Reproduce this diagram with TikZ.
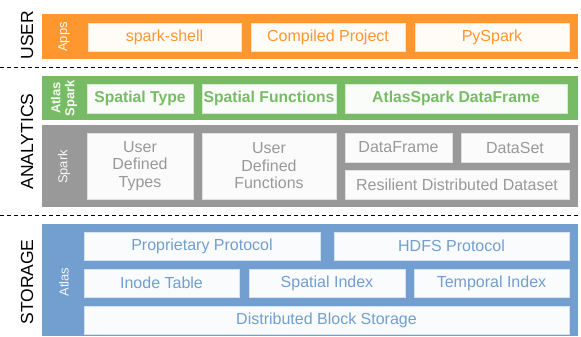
\documentclass[tikz,border=0pt]{standalone}
\usepackage{fontspec}
\setmainfont{Liberation Sans}
\definecolor{cOr}{HTML}{FF972F}
\definecolor{cGr}{HTML}{77BC65}
\definecolor{cGy}{HTML}{999999}
\definecolor{cBl}{HTML}{729FCF}
\tikzset{
  band/.style={fill=#1, draw=none},
  ibox/.style={draw=#1!30!white, fill=#1!4!white, line width=0.8pt, text=#1,
    inner sep=0pt, align=center, font=\fontsize{16}{17.5}\selectfont},
  bbox/.style={ibox=#1, font=\fontsize{15.7}{17.5}\selectfont\bfseries},
  tag/.style={rotate=90, text=white!92!#1, inner sep=0pt, align=center,
    font=\fontsize{13}{14}\selectfont},
  side/.style={rotate=90, text=black, inner sep=0pt, font=\fontsize{17.5}{20}\selectfont},
  sep/.style={draw=black, line width=1.5pt, dash pattern=on 4pt off 3pt}
}
\newcommand{\bx}[7]{% style, name, x1, y1, x2, y2, text
  \node[#1, minimum width={(#5-#3)*1pt}, minimum height={(#6-#4)*1pt}] (#2) at ({(#3+#5)/2},{(#4+#6)/2}) {#7};}
\begin{document}
\begin{tikzpicture}[x=1pt,y=-1pt]
\useasboundingbox (0,0) rectangle (581,337);
\fill[white] (0,0) rectangle (581,337);
% bands
\fill[band=cOr] (42,14) rectangle (578,59);
\fill[band=cGr] (42,76) rectangle (578,120);
\fill[band=cGy] (42,125) rectangle (578,207);
\fill[band=cBl] (42,224) rectangle (578,336);
% separators
\coordinate (d1l) at (0,67.5); \coordinate (d1r) at (581,67.5);
\coordinate (d2l) at (0,215.5); \coordinate (d2r) at (581,215.5);
\draw[sep] (d1l) -- (d1r);
\draw[sep] (d2l) -- (d2r);
% side labels
\node[side] (user) at (27,35) {USER};
\node[side] (analytics) at (27,141.5) {ANALYTICS};
\node[side] (storage) at (27,282) {STORAGE};
% band tags
\node[tag=cOr] (apps) at (64,37) {Apps};
\node[tag=cGr, font=\fontsize{13}{14}\selectfont\bfseries] (atlasspark) at (64,98) {Atlas\\Spark};
\node[tag=cGy] (spark) at (64,167) {Spark};
\node[tag=cBl] (atlas) at (64,282) {Atlas};
% USER
\bx{ibox=cOr}{sshell}{88}{23}{241}{51}{spark-shell}
\bx{ibox=cOr}{cproj}{251}{23}{405}{51}{Compiled Project}
\bx{ibox=cOr}{pyspark}{415}{23}{569}{51}{PySpark}
% ANALYTICS - Atlas Spark
\bx{bbox=cGr}{stype}{87}{84}{193}{113}{Spatial Type}
\bx{bbox=cGr}{sfunc}{202}{84}{336}{113}{Spatial Functions}
\bx{bbox=cGr}{asdf}{345}{84}{567}{113}{AtlasSpark DataFrame}
% ANALYTICS - Spark
\bx{ibox=cGy}{udt}{87}{133}{193}{199}{User\\Defined\\Types}
\bx{ibox=cGy}{udf}{202}{133}{336}{199}{User\\Defined\\Functions}
\bx{ibox=cGy}{dframe}{345}{133}{452}{162}{DataFrame}
\bx{ibox=cGy}{dset}{461}{133}{569}{162}{DataSet}
\bx{ibox=cGy}{rdd}{345}{170}{569}{199}{Resilient Distributed Dataset}
% STORAGE
\bx{ibox=cBl}{pprot}{84}{232}{320}{260}{Proprietary Protocol}
\bx{ibox=cBl}{hdfs}{334}{232}{569}{260}{HDFS Protocol}
\bx{ibox=cBl}{inode}{84}{269}{239}{297}{Inode Table}
\bx{ibox=cBl}{sidx}{249}{269}{405}{297}{Spatial Index}
\bx{ibox=cBl}{tidx}{414}{269}{569}{297}{Temporal Index}
\bx{ibox=cBl}{dbs}{84}{306}{569}{334}{Distributed Block Storage}
\end{tikzpicture}
\end{document}
